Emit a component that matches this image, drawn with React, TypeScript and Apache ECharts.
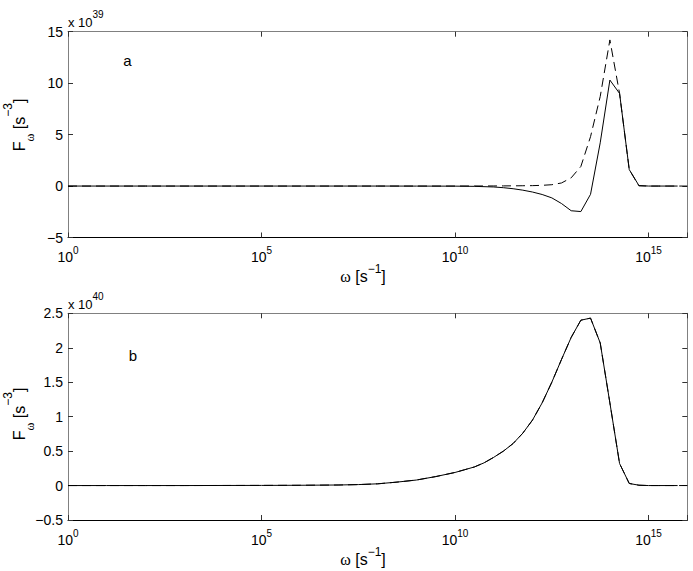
import React, { useEffect, useRef } from 'react';
import * as echarts from 'echarts';

// log10(omega) sample points and F_omega values (panel a in 1e39 s^-3, panel b in 1e40 s^-3)
const logOmegaA = [0, 2, 4, 6, 8, 9, 10, 10.5, 11, 11.25, 11.5, 11.75, 12, 12.25, 12.5, 12.75, 13, 13.25, 13.5, 13.75, 14, 14.25, 14.5, 14.75, 15, 15.25, 15.5, 15.75, 16];
const fSolidA = [0, 0, 0, 0, 0, -0.005, -0.01, -0.03, -0.09, -0.16, -0.26, -0.4, -0.58, -0.82, -1.15, -1.7, -2.4, -2.48, -0.8, 4.2, 10.3, 9.0, 1.6, 0.05, 0, 0, 0, 0, null];
const fDashedA = [0, 0, 0, 0, 0, 0, 0, 0.005, 0.01, 0.015, 0.02, 0.03, 0.04, 0.07, 0.13, 0.3, 0.8, 1.9, 4.8, 8.7, 14.2, 9.0, 1.6, 0.02, 0, 0, 0, 0, 0];

const logOmegaB = [0, 1, 2, 3, 4, 5, 6, 7, 7.5, 8, 8.5, 9, 9.5, 10, 10.25, 10.5, 10.75, 11, 11.25, 11.5, 11.75, 12, 12.25, 12.5, 12.75, 13, 13.25, 13.5, 13.75, 14, 14.25, 14.5, 14.75, 15, 15.25, 15.5, 15.75, 16];
const fB = [0, 0, 0, 0, 0.001, 0.002, 0.004, 0.008, 0.014, 0.025, 0.05, 0.08, 0.13, 0.19, 0.23, 0.27, 0.33, 0.41, 0.5, 0.61, 0.76, 0.95, 1.2, 1.5, 1.83, 2.15, 2.4, 2.43, 2.07, 1.2, 0.32, 0.03, 0.005, 0, 0, 0, 0, 0];
const solidEndB = 15.75;

const xRange = { min: 0, max: 16, interval: 5 };
const yRangeA = { min: -5, max: 15, interval: 5 };
const yRangeB = { min: -0.5, max: 2.5, interval: 0.5 };
const panelLetters = ['a', 'b'];
const exponents = ['39', '40'];

const FONT = "'Liberation Sans', Arial, Helvetica, sans-serif";
const SERIF = "'Liberation Serif', 'Times New Roman', serif";
const GREY = '#808080';

function fmtY(v: number) {
  return v < 0 ? '\u2212' + Math.abs(v) : String(v);
}

export default function App() {
  const ref = useRef<HTMLDivElement>(null);
  useEffect(() => {
    const chart = echarts.init(ref.current!, null, { renderer: 'svg' });
    const grids = [
      { left: 68, top: 31.7, right: 5.7, height: 205.8 },
      { left: 68, top: 313.3, right: 5.7, height: 206.7 },
    ];
    const yRanges = [yRangeA, yRangeB];
    const xAxes: any[] = [];
    const yAxes: any[] = [];
    const tick = { inside: true, length: 5, lineStyle: { color: '#333', width: 1 } };
    grids.forEach((_, i) => {
      xAxes.push({
        gridIndex: i, type: 'value', position: 'bottom', ...xRange,
        axisLine: { onZero: false, lineStyle: { color: '#000', width: 1 } },
        axisTick: tick, splitLine: { show: false },
        axisLabel: {
          margin: 8, color: '#000',
          formatter: (v: number) => (v % 5 === 0 && v <= 15 ? `{b|10}{s|${v}}` : ''),
          rich: {
            b: { fontSize: 14, fontFamily: FONT, lineHeight: 23, verticalAlign: 'middle', fill: '#000', color: '#000' },
            s: { fontSize: 10, fontFamily: FONT, lineHeight: 10, verticalAlign: 'top', fill: '#000', color: '#000' },
          },
        },
      });
      xAxes.push({
        gridIndex: i, type: 'value', position: 'top', ...xRange,
        axisLine: { onZero: false, lineStyle: { color: GREY, width: 1 } },
        axisTick: tick, axisLabel: { show: false }, splitLine: { show: false },
      });
      yAxes.push({
        gridIndex: i, type: 'value', position: 'left', ...yRanges[i],
        axisLine: { onZero: false, lineStyle: { color: GREY, width: 1 } },
        axisTick: tick, splitLine: { show: false },
        axisLabel: { margin: 5, fontSize: 14, fontFamily: FONT, color: '#000', formatter: fmtY },
      });
      yAxes.push({
        gridIndex: i, type: 'value', position: 'right', ...yRanges[i],
        axisLine: { onZero: false, lineStyle: { color: GREY, width: 1 } },
        axisTick: tick, axisLabel: { show: false }, splitLine: { show: false },
      });
    });

    const solid = { color: '#000', width: 1 };
    const dashed = { color: '#000', width: 1, type: [9, 5] };
    const series: any[] = [
      {
        type: 'line', xAxisIndex: 0, yAxisIndex: 0, symbol: 'none', silent: true,
        data: logOmegaA.map((x, i) => [x, fDashedA[i]]), lineStyle: dashed,
      },
      {
        type: 'line', xAxisIndex: 0, yAxisIndex: 0, symbol: 'none', silent: true,
        data: logOmegaA.map((x, i) => [x, fSolidA[i]]).filter((d) => d[1] !== null), lineStyle: solid,
      },
      {
        type: 'line', xAxisIndex: 2, yAxisIndex: 2, symbol: 'none', silent: true,
        data: logOmegaB.map((x, i) => [x, fB[i]]), lineStyle: dashed,
      },
      {
        type: 'line', xAxisIndex: 2, yAxisIndex: 2, symbol: 'none', silent: true,
        data: logOmegaB.map((x, i) => [x, fB[i]]).filter((d) => d[0] <= solidEndB), lineStyle: solid,
      },
    ];

    const graphic: any[] = [];
    const yNameCenters = [125, 414];
    const xNameCenters = [276.5, 559.2];
    const expY = [22.5, 304];
    const letterPos = [[127.5, 60], [133, 355]];
    [0, 1].forEach((i) => {
      graphic.push({
        type: 'text', x: 68, y: expY[i], silent: true,
        style: {
          text: `{n|x 10}{s|${exponents[i]}}`, align: 'left', verticalAlign: 'middle',
          rich: {
            n: { fontSize: 13, fontFamily: FONT, lineHeight: 26, verticalAlign: 'middle', fill: '#000' },
            s: { fontSize: 10, fontFamily: FONT, lineHeight: 10, verticalAlign: 'top', fill: '#000' },
          },
        },
      });
      graphic.push({
        type: 'text', x: letterPos[i][0], y: letterPos[i][1], silent: true,
        style: { text: panelLetters[i], fontSize: 15, fontFamily: FONT, fill: '#000', align: 'center', verticalAlign: 'middle' },
      });
      graphic.push({
        type: 'text', x: 19, y: yNameCenters[i], rotation: Math.PI / 2, silent: true,
        style: {
          text: '{n|F}{w|ω}{n| [s}{s|\u22123}{n|]}', align: 'center', verticalAlign: 'middle',
          rich: {
            n: { fontSize: 16, fontFamily: FONT, lineHeight: 34, verticalAlign: 'middle', fill: '#000' },
            w: { fontSize: 12, fontFamily: SERIF, lineHeight: 12, verticalAlign: 'bottom', fill: '#000' },
            s: { fontSize: 12, fontFamily: FONT, lineHeight: 12, verticalAlign: 'top', fill: '#000' },
          },
        },
      });
      graphic.push({
        type: 'text', x: 363, y: xNameCenters[i], silent: true,
        style: {
          text: '{w|ω}{n| [s}{s|\u22121}{n|]}', align: 'center', verticalAlign: 'middle',
          rich: {
            w: { fontSize: 16, fontFamily: SERIF, lineHeight: 27, verticalAlign: 'middle', fill: '#000' },
            n: { fontSize: 16, fontFamily: FONT, lineHeight: 27, verticalAlign: 'middle', fill: '#000' },
            s: { fontSize: 12, fontFamily: FONT, lineHeight: 12, verticalAlign: 'top', fill: '#000' },
          },
        },
      });
    });

    chart.setOption({
      animation: false,
      backgroundColor: '#fff',
      grid: grids,
      xAxis: xAxes,
      yAxis: yAxes,
      series,
      graphic,
    });
    return () => chart.dispose();
  }, []);
  return <div ref={ref} style={{ position: 'fixed', left: 0, top: 0, width: 693, height: 571, background: '#fff' }} />;
}
